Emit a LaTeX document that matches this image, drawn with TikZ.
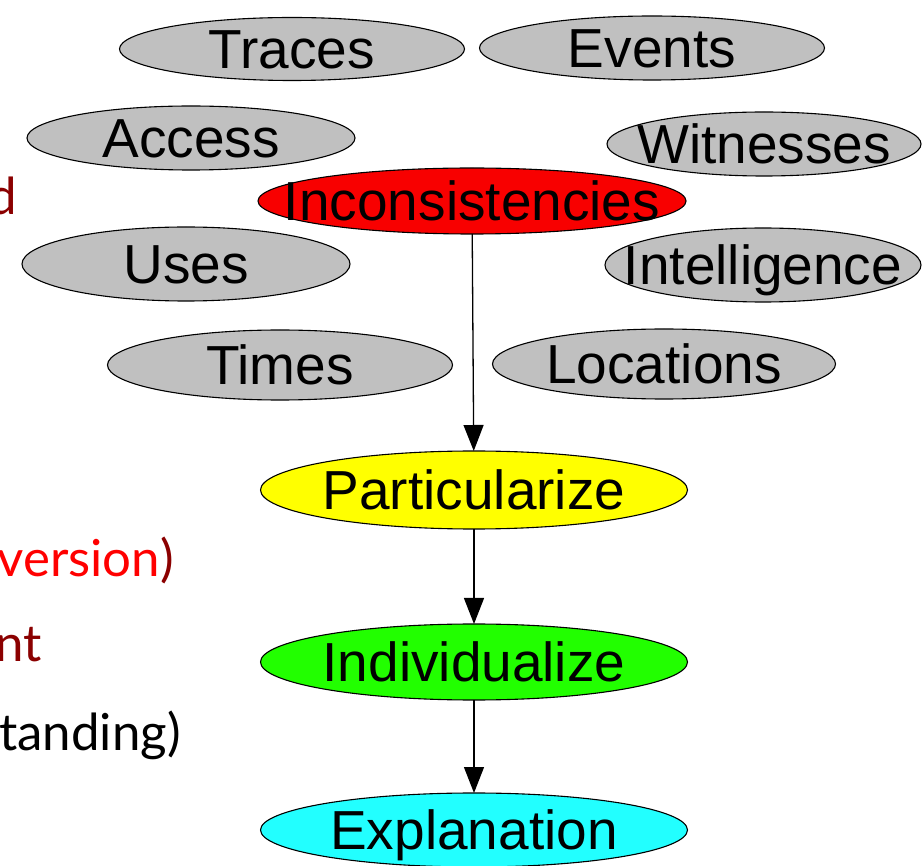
\documentclass[tikz,border=0pt]{standalone}
\usepackage{fontspec}
\setmainfont{Liberation Sans}
\newfontfamily\slidefont{Lato}
\usetikzlibrary{shapes.geometric,arrows.meta}

\definecolor{gvgray}{HTML}{C0C0C0}
\definecolor{gvred}{HTML}{F80000}
\definecolor{gvyellow}{HTML}{FFFF00}
\definecolor{gvgreen}{HTML}{22FF00}
\definecolor{gvcyan}{HTML}{22FFFF}
\definecolor{slidedark}{HTML}{8B0000}
\definecolor{slidered}{HTML}{FF0000}

% label that takes no room, so the ellipse keeps its given size
\newcommand\gvlabel[1]{\makebox[0pt]{\raisebox{-0.36em}[0pt][0pt]{#1}}}

\begin{document}
\begin{tikzpicture}[x=1pt,y=-1pt,
  gv/.style={ellipse, draw=black, line width=1.1pt, inner sep=0pt, outer sep=0pt,
             font=\fontsize{55}{60}\selectfont},
  gvgrey/.style={gv, fill=gvgray},
  flow/.style={draw=black, line width=1.3pt, -{Triangle[length=26pt,width=20pt]}},
  slide/.style={inner sep=0pt, anchor=base east, font=\slidefont\fontsize{51}{55}\selectfont}
]
\useasboundingbox (0,0) rectangle (922,866);
\clip (0,0) rectangle (922,866);

% slide text running in from the left edge
\node[slide, text=slidedark] (s1) at (17,215) {d};
\node[slide] (s2) at (174,577) {\textcolor{slidered}{version}\textcolor{slidedark}{)}};
\node[slide, text=slidedark] (s3) at (42,662) {nt};
\node[slide, text=black] (s4) at (181,750) {tanding)};

% surrounding factors
\node[gvgrey, minimum width=345pt, minimum height=63pt] (tra) at (292,49) {\gvlabel{Traces}};
\node[gvgrey, minimum width=345pt, minimum height=64pt] (eve) at (652,48) {\gvlabel{Events}};
\node[gvgrey, minimum width=328pt, minimum height=64pt] (acc) at (191,138) {\gvlabel{Access}};
\node[gvgrey, minimum width=314pt, minimum height=64pt] (wit) at (764,144) {\gvlabel{Witnesses}};
\node[gvgrey, minimum width=328pt, minimum height=74pt] (use) at (186,264) {\gvlabel{Uses}};
\node[gvgrey, minimum width=316pt, minimum height=74pt] (int) at (763,265) {\gvlabel{Intelligence}};
\node[gvgrey, minimum width=345pt, minimum height=70pt] (tim) at (280,365) {\gvlabel{Times}};
\node[gvgrey, minimum width=343pt, minimum height=70pt] (loc) at (664,364) {\gvlabel{Locations}};

% main chain
\node[gv, fill=gvred, minimum width=428pt, minimum height=66pt] (inc) at (472,201) {\gvlabel{Inconsistencies}};
\node[gv, fill=gvyellow, minimum width=427pt, minimum height=78pt] (par) at (474,490) {\gvlabel{Particularize}};
\node[gv, fill=gvgreen, minimum width=427pt, minimum height=76pt] (ind) at (474,662) {\gvlabel{Individualize}};
\node[gv, fill=gvcyan, minimum width=427pt, minimum height=74pt] (exp) at (474,830) {\gvlabel{Explanation}};

\draw[flow] (inc) -- (par);
\draw[flow] (par) -- (ind);
\draw[flow] (ind) -- (exp);
\end{tikzpicture}
\end{document}
